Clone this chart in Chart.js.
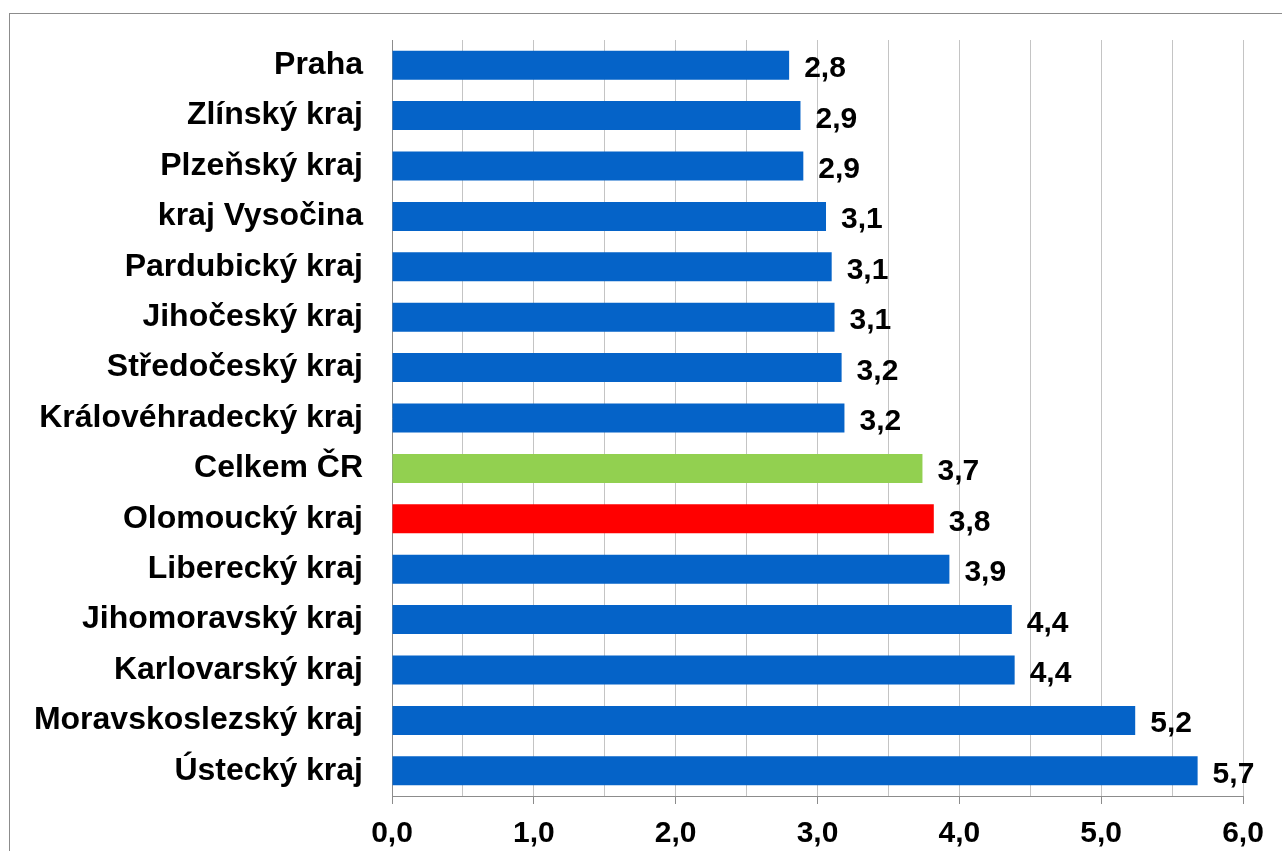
<!DOCTYPE html>
<html>
<head>
<meta charset="utf-8">
<script src="https://cdn.jsdelivr.net/npm/chart.js@4"></script>
<style>
  html, body { margin: 0; padding: 0; background: #fff; }
  #wrap { width: 1282px; height: 851px; position: relative; }
</style>
</head>
<body>
<div id="wrap"><canvas id="graf"></canvas></div>
<script>
// kraje seřazené od nejnižší hodnoty
const kraje = [
    "Praha", "Zlínský kraj", "Plzeňský kraj", "kraj Vysočina", "Pardubický kraj",
    "Jihočeský kraj", "Středočeský kraj", "Královéhradecký kraj", "Celkem ČR",
    "Olomoucký kraj", "Liberecký kraj", "Jihomoravský kraj", "Karlovarský kraj",
    "Moravskoslezský kraj", "Ústecký kraj"
]
const hodnoty = [2.80, 2.88, 2.90, 3.06, 3.10, 3.12, 3.17, 3.19, 3.74, 3.82, 3.93, 4.37, 4.39, 5.24, 5.68]
const popisky = ["2,8", "2,9", "2,9", "3,1", "3,1", "3,1", "3,2", "3,2", "3,7", "3,8", "3,9", "4,4", "4,4", "5,2", "5,7"]
const osaX = ["0,0", "1,0", "2,0", "3,0", "4,0", "5,0", "6,0"]

const barvy = kraje.map(function(k) {
    if (k === "Celkem ČR") return "#92D050";
    if (k === "Olomoucký kraj") return "#FF0000";
    return "#0563C8";
});

const font = "'Liberation Sans', Arial, sans-serif";

// popisky hodnot za koncem sloupce
const hodnotyPlugin = {
    id: 'hodnoty',
    afterDatasetsDraw(chart) {
        const ctx = chart.ctx;
        const meta = chart.getDatasetMeta(0);
        ctx.save();
        ctx.font = "bold 30px " + font;
        ctx.fillStyle = "#000";
        ctx.textAlign = "left";
        ctx.textBaseline = "alphabetic";
        meta.data.forEach(function(bar, i) {
            ctx.fillText(popisky[i], bar.x + 15, bar.y + 12);
        });
        ctx.restore();
    }
};

// šedý rámeček kolem grafu
const ramecek = {
    id: 'ramecek',
    beforeDraw(chart) {
        const ctx = chart.ctx;
        ctx.save();
        ctx.strokeStyle = "#8c8c8c";
        ctx.lineWidth = 1;
        ctx.strokeRect(9.5, 13.5, 1400, 1000);
        ctx.restore();
    }
};

new Chart(document.getElementById('graf'), {
    type: 'bar',
    data: {
        labels: kraje,
        datasets: [{
            data: hodnoty,
            backgroundColor: barvy,
            barPercentage: 1,
            categoryPercentage: 0.575
        }]
    },
    options: {
        indexAxis: 'y',
        responsive: true,
        maintainAspectRatio: false,
        animation: false,
        layout: { padding: { top: 40, right: 39, left: 0, bottom: 0 } },
        plugins: {
            legend: { display: false },
            tooltip: { enabled: false }
        },
        scales: {
            x: {
                min: 0,
                max: 6,
                ticks: {
                    stepSize: 0.5,
                    padding: 12,
                    color: "#000",
                    font: { family: font, size: 30, weight: 'bold' },
                    maxRotation: 0,
                    autoSkip: false,
                    callback: function(v) {
                        return Number.isInteger(v) ? osaX[v] : "";
                    }
                },
                grid: {
                    color: "#c4c4c4",
                    lineWidth: 1,
                    tickLength: 8,
                    tickColor: function(c) {
                        return Number.isInteger(c.tick.value) ? "#8c8c8c" : "rgba(0,0,0,0)";
                    }
                },
                border: { display: true, color: "#8c8c8c", width: 1 },
                afterFit: function(axis) { axis.height = 55; }
            },
            y: {
                ticks: {
                    padding: 29,
                    color: "#000",
                    font: { family: font, size: 32, weight: 'bold' }
                },
                grid: { display: false, drawTicks: false },
                border: { display: true, color: "#8c8c8c", width: 1 },
                afterFit: function(axis) {
                    axis.width = 392;
                    axis.paddingTop = 0;
                    axis.paddingBottom = 0;
                }
            }
        }
    },
    plugins: [hodnotyPlugin, ramecek]
});
</script>
</body>
</html>
